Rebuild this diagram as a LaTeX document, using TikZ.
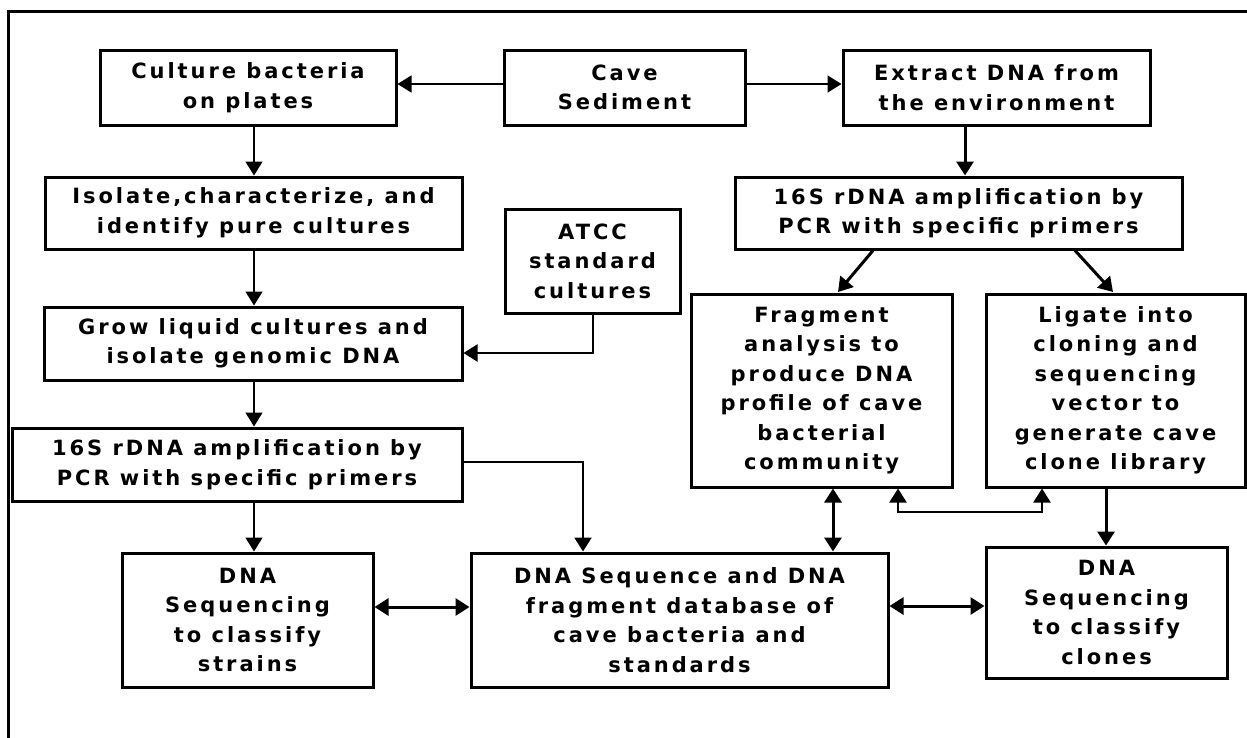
\documentclass[tikz,border=0pt]{standalone}
\usepackage{fontspec}
\setmainfont{DejaVu Sans}[LetterSpace=14]
\usetikzlibrary{arrows.meta}
\tikzset{
  >={Triangle[length=14pt,width=17pt]},
  box/.style={draw, line width=3pt, align=center, inner sep=0pt,
    font=\fontsize{21}{29.5}\selectfont\bfseries,
    execute at begin node={\vspace*{7pt}}},
  thinc/.style={line width=1.4pt},
  midc/.style={line width=2.3pt},
  thickc/.style={line width=3pt},
}
\begin{document}
\begin{tikzpicture}[x=1pt,y=-1pt]
\useasboundingbox (0,0) rectangle (1247,737);
\clip (0,0) rectangle (1247,737);
\draw[line width=3pt] (8,760) -- (8,11) -- (1270,11);

% nodes
\node[box, minimum width=296pt, minimum height=75pt] (cul) at (248,87.5) {Culture bacteria\\on plates};
\node[box, minimum width=241pt, minimum height=75pt] (cave) at (624.5,87.5) {Cave\\Sediment};
\node[box, minimum width=307pt, minimum height=75pt] (ext) at (996.5,87.5) {Extract DNA from\\the environment};
\node[box, minimum width=417pt, minimum height=72pt] (iso) at (253.5,213) {Isolate,characterize, and\\identify pure cultures};
\node[box, minimum width=447pt, minimum height=72pt] (pcrR) at (958.5,213) {16S rDNA amplification by\\PCR with specific primers};
\node[box, minimum width=175pt, minimum height=104pt] (atcc) at (592.5,261) {ATCC\\standard\\cultures};
\node[box, minimum width=418pt, minimum height=73pt] (grow) at (253,343.5) {Grow liquid cultures and\\isolate genomic DNA};
\node[box, minimum width=261pt, minimum height=193pt] (frag) at (821.5,390.5) {Fragment\\analysis to\\produce DNA\\profile of cave\\bacterial\\community};
\node[box, minimum width=259pt, minimum height=193pt] (lig) at (1115.5,390.5) {Ligate into\\cloning and\\sequencing\\vector to\\generate cave\\clone library};
\node[box, minimum width=450pt, minimum height=73pt] (pcrL) at (237,464.5) {16S rDNA amplification by\\PCR with specific primers};
\node[box, minimum width=251pt, minimum height=134pt] (str) at (247.5,620) {DNA\\Sequencing\\to classify\\strains};
\node[box, minimum width=417pt, minimum height=134pt] (db) at (679.5,620) {DNA Sequence and DNA\\fragment database of\\cave bacteria and\\standards};
\node[box, minimum width=241pt, minimum height=131pt] (clo) at (1106.5,612.5) {DNA\\Sequencing\\to classify\\clones};

% connectors
\draw[thinc,->] (cave.west |- 0,84) -- (cul.east |- 0,84);
\draw[thinc,->] (cave.east |- 0,84) -- (ext.west |- 0,84);
\draw[thinc,->] (cul.south -| 254,0) -- (iso.north -| 254,0);
\draw[thickc,->] (ext.south -| 965,0) -- (pcrR.north -| 965,0);
\draw[thinc,->] (iso.south -| 254,0) -- (grow.north -| 254,0);
\draw[midc,->] (atcc.south -| 593,0) -- (593,353) -- (grow.east |- 0,353);
\draw[thinc,->] (grow.south -| 254,0) -- (pcrL.north -| 254,0);
\draw[thickc,->] (pcrR.south -| 873,0) -- (838,292);
\draw[thickc,->] (pcrR.south -| 1075,0) -- (1113,292);
\draw[midc,->] (pcrL.east |- 0,462) -- (583,462) -- (db.north -| 583,0);
\draw[thinc,->] (pcrL.south -| 254,0) -- (str.north -| 254,0);
\draw[thickc,<->] (frag.south -| 833,0) -- (db.north -| 833,0);
\draw[midc,<->] (frag.south -| 898,0) -- (898,512) -- (1042,512) -- (lig.south -| 1042,0);
\draw[thickc,->] (lig.south -| 1106,0) -- (clo.north -| 1106,0);
\draw[thickc,<->] (str.east |- 0,607) -- (db.west |- 0,607);
\draw[thickc,<->] (db.east |- 0,606) -- (clo.west |- 0,606);
\end{tikzpicture}
\end{document}
